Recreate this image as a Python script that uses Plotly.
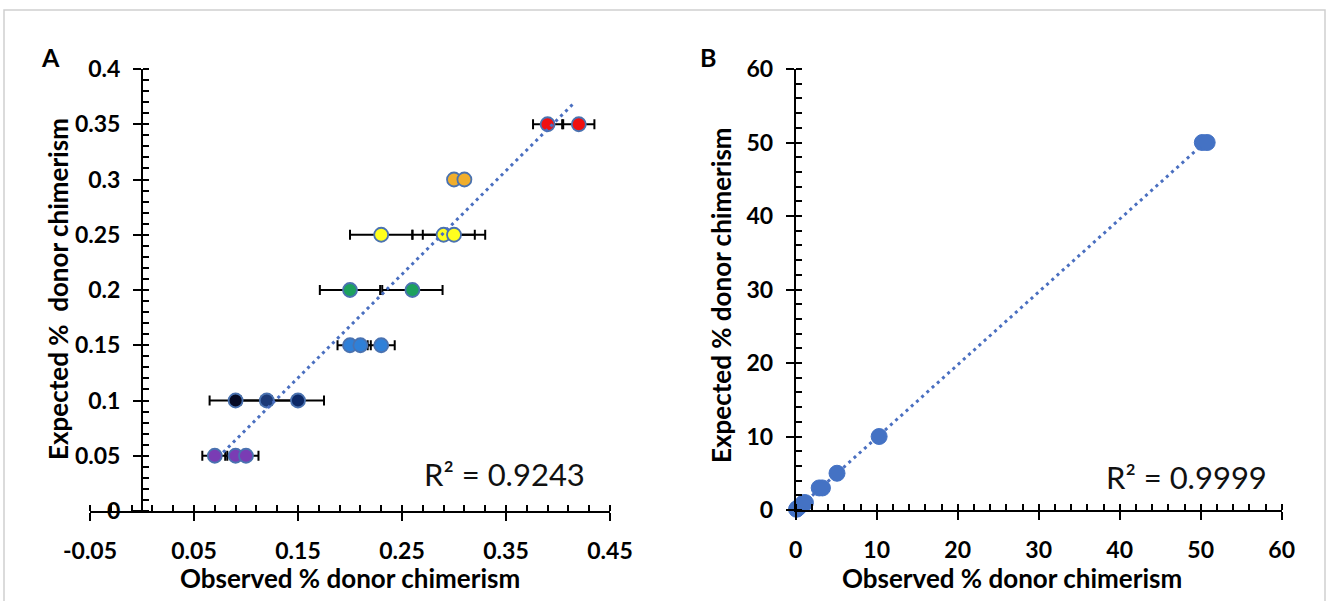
import numpy as np
import plotly.graph_objects as go

# ---------------- Panel A data ----------------
a_expected = [0.35, 0.30, 0.25, 0.20, 0.15, 0.10, 0.05]
a_observed = [
    [0.39, 0.42],
    [0.30, 0.31],
    [0.23, 0.29, 0.30],
    [0.20, 0.26],
    [0.20, 0.21, 0.23],
    [0.09, 0.12, 0.15],
    [0.07, 0.09, 0.10],
]
a_error = [
    [0.014, 0.015],
    [0.003, 0.003],
    [0.030, 0.030, 0.030],
    [0.029, 0.029],
    [0.012, 0.010, 0.013],
    [0.025, 0.025, 0.025],
    [0.012, 0.010, 0.012],
]
a_r2_text = "R² = 0.9243"
a_x_ticks = [-0.05, 0.05, 0.15, 0.25, 0.35, 0.45]
a_x_ticklabels = ["-0.05", "0.05", "0.15", "0.25", "0.35", "0.45"]

# ---------------- Panel B data ----------------
b_observed = [0.1, 0.2, 0.3, 0.5, 1.0, 1.2, 2.9, 3.3, 5.1, 10.3, 50.2, 50.8]
b_expected = [0.1, 0.2, 0.3, 0.5, 1.0, 1.0, 3.0, 3.0, 5.0, 10.0, 50.0, 50.0]
b_r2_text = "R² = 0.9999"

# ---------------- styles ----------------
a_colors = [
    ["#f01010", "#f01010"],
    ["#f0ae2c", "#f0ae2c"],
    ["#ffff1e", "#ffff1e", "#ffff1e"],
    ["#1ca15e", "#1ca15e"],
    ["#2f80d8", "#2f80d8", "#2f80d8"],
    ["#060a24", "#1c3a78", "#0c2866"],
    ["#7a3cb4", "#7a3cb4", "#7a3cb4"],
]
W, H = 1328, 601
FONT = "Lato"

def fx(px):
    return px / W

def fy(py):
    return (H - py) / H

a_xdom = [fx(90), fx(610)]
a_ydom = [fy(511), fy(69)]
b_xdom = [fx(795.7), fx(1281.7)]
b_ydom = [fy(510), fy(69)]
a_xrange = [-0.05, 0.45]
a_yrange = [0, 0.4]
b_range = [0, 60]
a_ypos = a_xdom[0] + (a_xdom[1] - a_xdom[0]) * (0 - a_xrange[0]) / (a_xrange[1] - a_xrange[0])

fig = go.Figure()

# Panel A points with error bars
for exp, obs, err, cols in zip(a_expected, a_observed, a_error, a_colors):
    fig.add_trace(go.Scatter(
        x=obs, y=[exp] * len(obs), mode="markers",
        marker=dict(size=14, color=cols, line=dict(color="#4a72b0", width=1.8)),
        error_x=dict(type="data", array=err, color="black", thickness=2, width=5),
        xaxis="x", yaxis="y", showlegend=False, cliponaxis=False,
    ))

# Panel A trend line (least squares)
ax_all = np.concatenate([np.array(o) for o in a_observed])
ay_all = np.concatenate([[e] * len(o) for e, o in zip(a_expected, a_observed)])
ka, ba = np.polyfit(ax_all, ay_all, 1)
xa_line = np.array([ax_all.min() + 0.008, ax_all.max() - 0.005])
fig.add_trace(go.Scatter(
    x=xa_line, y=ka * xa_line + ba, mode="lines",
    line=dict(color="#4a6fc0", width=3, dash="3px,4px"),
    xaxis="x", yaxis="y", showlegend=False,
))

# Panel B trend line + points
bx = np.array(b_observed)
by = np.array(b_expected)
kb, bb = np.polyfit(bx, by, 1)
xb_line = np.array([bx.min(), bx.max()])
fig.add_trace(go.Scatter(
    x=xb_line, y=kb * xb_line + bb, mode="lines",
    line=dict(color="#4a6fc0", width=3, dash="3px,4px"),
    xaxis="x2", yaxis="y2", showlegend=False, cliponaxis=False,
))
fig.add_trace(go.Scatter(
    x=b_observed, y=b_expected, mode="markers",
    marker=dict(size=16, color="#4472c4", line=dict(color="#4472c4", width=1)),
    xaxis="x2", yaxis="y2", showlegend=False, cliponaxis=False,
))

tickfont = dict(family=FONT, size=23, color="black", weight="bold")
common = dict(showgrid=False, zeroline=False, tickcolor="black", tickwidth=2,
              ticklen=8, linecolor="black", linewidth=2)
overlay_common = {k: v for k, v in common.items() if k not in ("linecolor", "linewidth")}

layout = dict(
    width=W, height=H,
    margin=dict(l=0, r=0, t=0, b=0, autoexpand=False),
    paper_bgcolor="white", plot_bgcolor="rgba(0,0,0,0)",
    showlegend=False,
    xaxis=dict(domain=a_xdom, range=a_xrange, anchor="y", showline=True,
               ticks="outside", tickvals=a_x_ticks, ticktext=a_x_ticklabels,
               tickfont=tickfont, ticklabelstandoff=10,
               minor=dict(ticks="inside", dtick=0.02, tick0=-0.05, ticklen=6,
                          tickwidth=2, tickcolor="black"), **common),
    xaxis3=dict(range=a_xrange, overlaying="x", anchor="y", showline=False,
                ticks="inside", tickvals=a_x_ticks, showticklabels=False, **overlay_common),
    yaxis=dict(domain=a_ydom, range=a_yrange, anchor="free", position=a_ypos,
               showline=True, ticks="outside", dtick=0.05, tick0=0,
               tickfont=tickfont, ticklabelstandoff=8,
               minor=dict(ticks="inside", dtick=0.01, tick0=0, ticklen=6,
                          tickwidth=2, tickcolor="black"), **common),
    yaxis3=dict(range=a_yrange, overlaying="y", anchor="free", position=a_ypos,
                showline=False, ticks="inside", dtick=0.05, tick0=0,
                showticklabels=False, **overlay_common),
    xaxis2=dict(domain=b_xdom, range=b_range, anchor="y2", showline=True,
                ticks="outside", dtick=10, tick0=0, tickfont=tickfont,
                ticklabelstandoff=10,
                minor=dict(ticks="inside", dtick=2, tick0=0, ticklen=6,
                           tickwidth=2, tickcolor="black"), **common),
    xaxis4=dict(range=b_range, overlaying="x2", anchor="y2", showline=False,
                ticks="inside", dtick=10, tick0=0, showticklabels=False, **overlay_common),
    yaxis2=dict(domain=b_ydom, range=b_range, anchor="x2", showline=True,
                ticks="outside", dtick=10, tick0=0, tickfont=tickfont,
                ticklabelstandoff=8,
                minor=dict(ticks="inside", dtick=2, tick0=0, ticklen=6,
                           tickwidth=2, tickcolor="black"), **common),
    yaxis4=dict(range=b_range, overlaying="y2", anchor="x2", showline=False,
                ticks="inside", dtick=10, tick0=0, showticklabels=False, **overlay_common),
)
fig.update_layout(**layout)

titlefont = dict(family=FONT, size=26, color="black", weight="bold")
letterfont = dict(family=FONT, size=25, color="black", weight="bold")
ann = [
    dict(text="A", x=fx(50), y=fy(57), font=letterfont),
    dict(text="B", x=fx(708), y=fy(57), font=letterfont),
    dict(text="Observed % donor chimerism", x=fx(350), y=fy(578), font=titlefont),
    dict(text="Observed % donor chimerism", x=fx(1012), y=fy(578), font=titlefont),
    dict(text="Expected %  donor chimerism", x=fx(58), y=fy(289), textangle=-90, font=titlefont),
    dict(text="Expected % donor chimerism", x=fx(721), y=fy(295), textangle=-90, font=titlefont),
]
for a in ann:
    fig.add_annotation(xref="paper", yref="paper", showarrow=False,
                       xanchor="center", yanchor="middle", **a)

fig.add_annotation(text=a_r2_text, xref="x", yref="y", x=0.349, y=0.0335,
                   showarrow=False, font=dict(family=FONT, size=31, color="#111111"))
fig.add_annotation(text=b_r2_text, xref="x2", yref="y2", x=48.3, y=4.5,
                   showarrow=False, font=dict(family=FONT, size=31, color="#111111"))

# light frame around the figure
fig.add_shape(type="rect", xref="paper", yref="paper",
              x0=fx(4), x1=fx(1325), y0=-0.05, y1=fy(10),
              line=dict(color="#cfcfcf", width=1.5), fillcolor="rgba(0,0,0,0)", layer="below")

fig.write_html("out.html")
